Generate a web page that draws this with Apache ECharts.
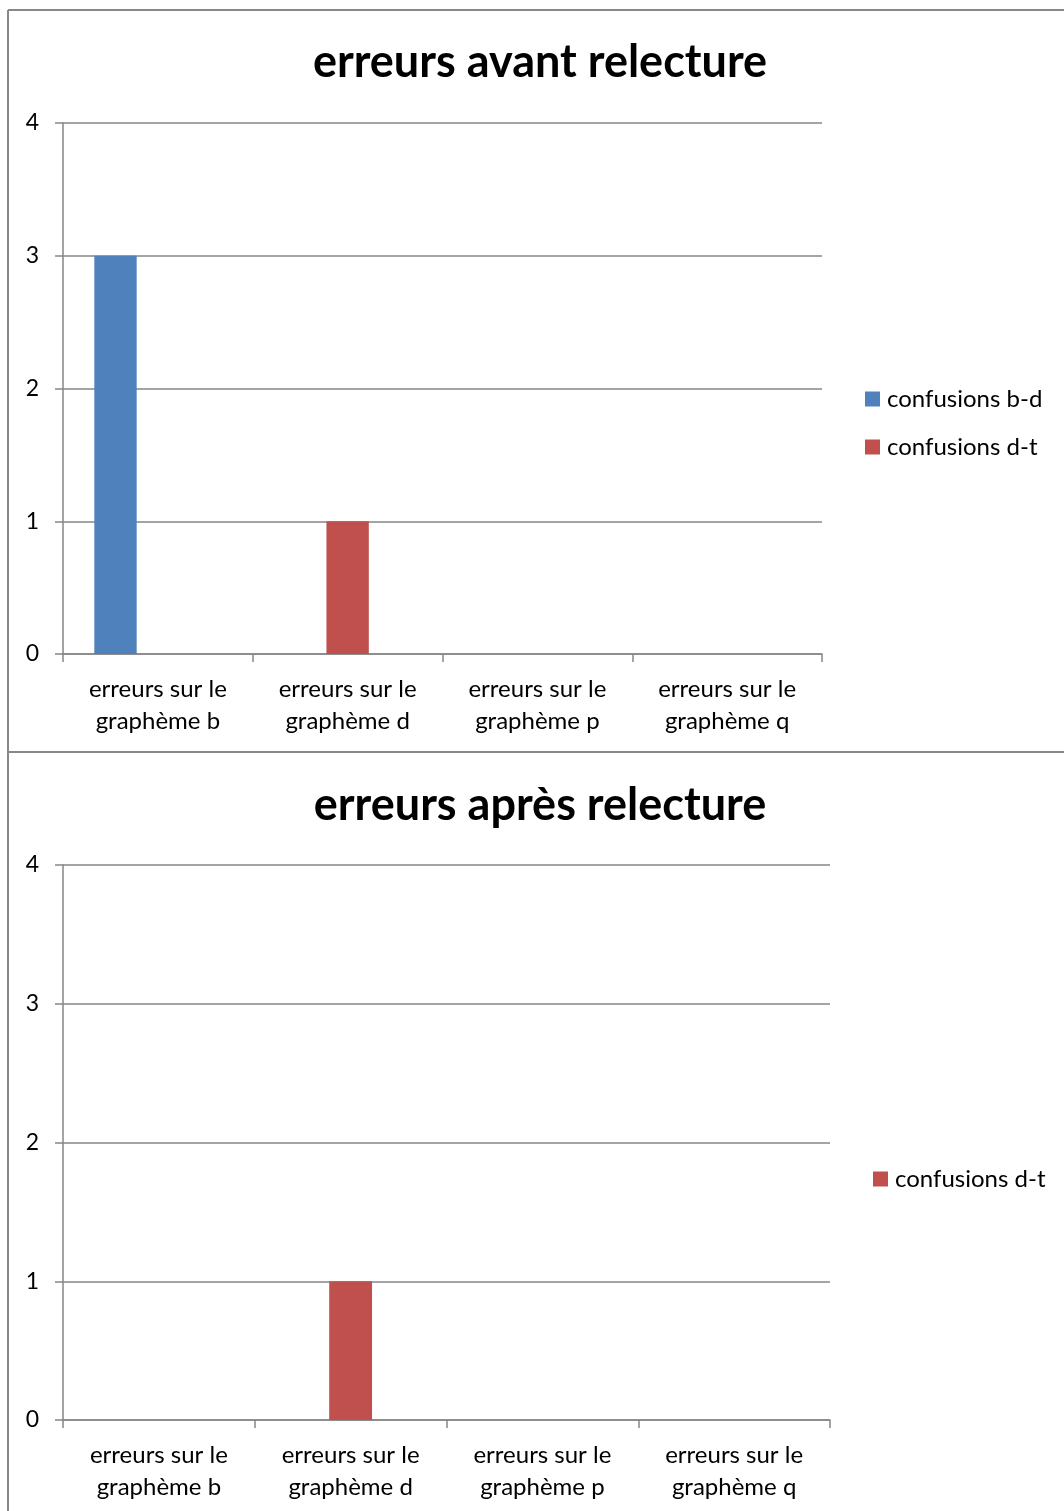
<!DOCTYPE html>
<html>
<head>
<meta charset="utf-8">
<script src="https://cdn.jsdelivr.net/npm/echarts@6/dist/echarts.min.js"></script>
<style>
html,body{margin:0;padding:0;background:#fff;}
#c{width:1064px;height:1511px;}
</style>
</head>
<body>
<div id="c"></div>
<script>
const categories = ["erreurs sur le\ngraphème b", "erreurs sur le\ngraphème d", "erreurs sur le\ngraphème p", "erreurs sur le\ngraphème q"];
const yTicks = [0, 1, 2, 3, 4];

const title1 = "erreurs avant relecture";
const avantBD = [3, null, null, null];
const avantDT = [null, 1, null, null];
const avantExtra = [null, null, null, null];

const title2 = "erreurs après relecture";
const apresBD = [null, null, null, null];
const apresDT = [null, 1, null, null];
const apresExtra = [null, null, null, null];

const FONT = "Lato";
const GRAY = "#868686";
const BLUE = "#4F81BD";
const RED = "#C0504D";

function xAxis(gi) {
  return {
    type: 'category', gridIndex: gi, data: categories,
    axisLine: {lineStyle: {color: GRAY, width: 1.5}},
    axisTick: {show: true, length: 8, lineStyle: {color: GRAY, width: 1.5}},
    axisLabel: {color: '#000', fontFamily: FONT, fontSize: 24, lineHeight: 32, margin: 19}
  };
}
function yAxis(gi) {
  return {
    type: 'value', gridIndex: gi, min: yTicks[0], max: yTicks[yTicks.length-1], interval: 1,
    axisLine: {show: true, lineStyle: {color: GRAY, width: 1.5}},
    axisTick: {show: true, length: 8, lineStyle: {color: GRAY, width: 1.5}},
    splitLine: {lineStyle: {color: GRAY, width: 1.5}},
    axisLabel: {color: '#000', fontFamily: FONT, fontSize: 23, margin: 24}
  };
}
function bar(name, data, color, idx) {
  return {
    type: 'bar', name: name, data: data, xAxisIndex: idx, yAxisIndex: idx,
    itemStyle: {color: color}, barGap: '0%', barCategoryGap: '33%'
  };
}

const chart = echarts.init(document.getElementById('c'), null, {renderer: 'canvas'});
chart.setOption({
  animation: false,
  backgroundColor: '#fff',
  title: [
    {text: title1, left: 535, textAlign: 'center', top: 35,
     textStyle: {fontFamily: FONT, fontWeight: 'bold', fontSize: 45, color: '#000'}},
    {text: title2, left: 535, textAlign: 'center', top: 778,
     textStyle: {fontFamily: FONT, fontWeight: 'bold', fontSize: 45, color: '#000'}}
  ],
  legend: [
    {orient: 'vertical', left: 860, top: 382, itemWidth: 15, itemHeight: 15, itemGap: 24, icon: 'rect',
     data: ['confusions b-d', 'confusions d-t'],
     textStyle: {fontFamily: FONT, fontSize: 24, color: '#000', padding: [0,0,0,2]}},
    {orient: 'vertical', left: 868, top: 1162, itemWidth: 15, itemHeight: 15, icon: 'rect',
     data: [{name: 'confusions d-t '}],
     textStyle: {fontFamily: FONT, fontSize: 24, color: '#000', padding: [0,0,0,2]}}
  ],
  grid: [
    {left: 63, right: 242, top: 123, height: 531},
    {left: 63, right: 234, top: 865, height: 555}
  ],
  xAxis: [xAxis(0), xAxis(1)],
  yAxis: [yAxis(0), yAxis(1)],
  series: [
    bar('confusions b-d', avantBD, BLUE, 0),
    bar('confusions d-t', avantDT, RED, 0),
    bar('autre', avantExtra, '#9BBB59', 0),
    bar('confusions b-d ', apresBD, BLUE, 1),
    bar('confusions d-t ', apresDT, RED, 1),
    bar('autre ', apresExtra, '#9BBB59', 1)
  ],
  graphic: [
    {type: 'line', shape: {x1: 8, y1: 10, x2: 8, y2: 1511}, style: {stroke: '#888', lineWidth: 2}},
    {type: 'line', shape: {x1: 8, y1: 10, x2: 1064, y2: 10}, style: {stroke: '#888', lineWidth: 2}},
    {type: 'line', shape: {x1: 8, y1: 752, x2: 1064, y2: 752}, style: {stroke: '#888', lineWidth: 2}}
  ]
});
</script>
</body>
</html>
